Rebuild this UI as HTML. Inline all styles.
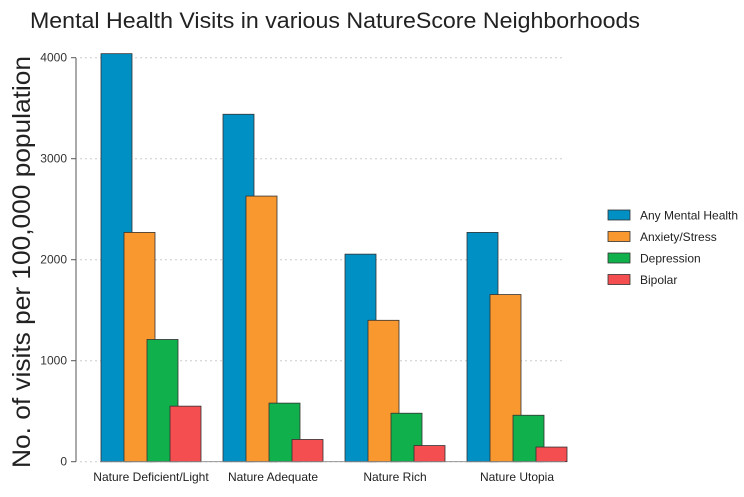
<!DOCTYPE html>
<html><head><meta charset="utf-8"><style>
body{margin:0;background:#fff;font-family:"Liberation Sans",sans-serif}
svg text{font-family:"Liberation Sans",sans-serif}
</style></head><body>
<svg id="chart" width="744" height="492" viewBox="0 0 744 492">
<text x="30" y="28" font-size="22" textLength="610" lengthAdjust="spacingAndGlyphs" fill="#222">Mental Health Visits in various NatureScore Neighborhoods</text>
<text transform="translate(30,262) rotate(-90)" text-anchor="middle" font-size="25" textLength="412" lengthAdjust="spacingAndGlyphs" fill="#222">No. of visits per 100,000 population</text>
<g id="grid"></g><g id="bars"></g><g id="axes"></g><g id="legend"></g>
</svg>
<script>
const categories=["Nature Deficient/Light","Nature Adequate","Nature Rich","Nature Utopia"];
const seriesNames=["Any Mental Health","Anxiety/Stress","Depression","Bipolar"];
const anyMental=[4040,3440,2055,2270];
const anxiety=[2270,2630,1400,1655];
const depression=[1210,580,480,460];
const bipolar=[550,220,160,145];
const yTicks=[0,1000,2000,3000,4000];
const series=[anyMental,anxiety,depression,bipolar];
const colors=["#0090c4","#f8982e","#10b04c","#f44e50"];
const NS="http://www.w3.org/2000/svg";
const y0=461.7,pxPer=0.101;
const yScale=v=>y0-v*pxPer;
const xGroup=i=>101+i*122;
function mk(t,a,p){const e=document.createElementNS(NS,t);for(const k in a)e.setAttribute(k,a[k]);p.appendChild(e);return e;}
const grid=document.getElementById('grid'),bars=document.getElementById('bars'),axes=document.getElementById('axes'),legend=document.getElementById('legend');
yTicks.forEach(t=>{
 const g=mk('line',{x1:80,x2:565,y1:yScale(t),y2:yScale(t),stroke:'#ccc','stroke-dasharray':'2,3'},grid);
 
 
 const tk=mk('line',{x1:71,x2:76,y1:yScale(t),y2:yScale(t),stroke:'#555'},axes);
 
 
 const lb=mk('text',{x:67,y:yScale(t)+4,'text-anchor':'end','font-size':12,fill:'#333'},axes);
 lb.textContent=t;
 
 
});
const ax=mk('line',{x1:76,x2:76,y1:yScale(4000),y2:y0,stroke:'#555'},axes);


const bl=mk('line',{x1:100,x2:565,y1:y0,y2:y0,stroke:'#888','stroke-width':0.8},axes);


categories.forEach((c,i)=>{
 series.forEach((s,j)=>{
  const v=s[i];
  const r=mk('rect',{x:xGroup(i)+j*23,y:yScale(v),width:31,height:y0-yScale(v),fill:colors[j],stroke:'#333','stroke-width':0.8},bars);
  
  
 });
 const t=mk('text',{x:xGroup(i)+50,y:481,'text-anchor':'middle','font-size':12,fill:'#222'},axes);
 t.textContent=c;
 
 
});
seriesNames.forEach((n,j)=>{
 const r=mk('rect',{x:608,y:210+j*21.5,width:22,height:10,fill:colors[j],stroke:'#333','stroke-width':0.8},legend);
 
 
 const t=mk('text',{x:640,y:219.5+j*21.5,'font-size':12,fill:'#222'},legend);
 t.textContent=n;
 
 
});
</script>
</body></html>
